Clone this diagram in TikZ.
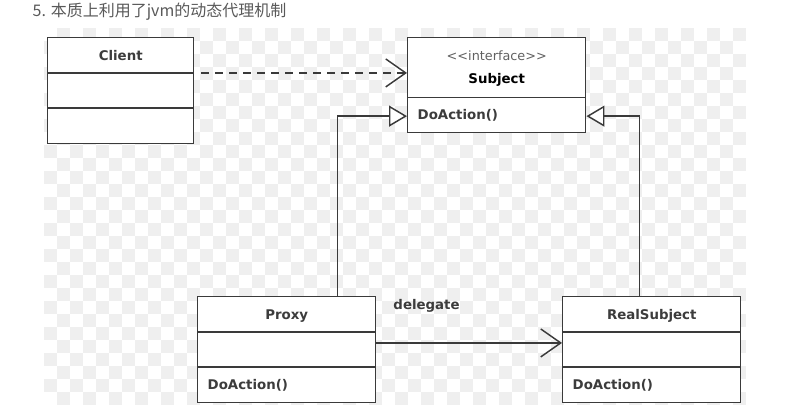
\documentclass[tikz,border=0pt]{standalone}
\usepackage{fontspec}
\setmainfont{DejaVu Sans}
\newfontfamily\cjk{Noto Sans CJK SC}
\usetikzlibrary{shapes.multipart,arrows.meta,calc}

\definecolor{umlline}{HTML}{3A3A3A}
\definecolor{umltext}{HTML}{3C3C3C}
\definecolor{chkgray}{HTML}{EFEFEF}
\newcommand{\partstrut}{\rule[-9.1pt]{0pt}{25.3pt}}
\newcommand{\oppart}[1]{\makebox[\linewidth][l]{\partstrut #1}}

\tikzset{
  umlclass/.style={rectangle split, rectangle split parts=#1, draw=umlline, line width=1.1pt,
    fill=white, text width=118.5pt, inner xsep=7.5pt, inner ysep=0pt, align=center,
    text=umltext, font=\fontsize{10}{17.7}\selectfont\bfseries, anchor=north west},
  chk/.style={fill=chkgray},
  depend/.style={draw=umlline, line width=1.1pt, dash pattern=on 6pt off 4.5pt,
    -{Straight Barb[length=15pt,width=21pt]}},
  assoc/.style={draw=umlline, line width=1.1pt, -{Straight Barb[length=15pt,width=21pt]}},
  inherit/.style={draw=umlline, line width=1.1pt, -{Triangle[length=13.5pt,width=15.75pt,fill=white]}},
  lbl/.style={text=umltext, font=\fontsize{10}{12}\selectfont\bfseries},
  title/.style={text=black!65, font=\cjk\fontsize{12}{14}\selectfont, anchor=west}
}

\begin{document}
\begin{tikzpicture}[x=0.75pt,y=-0.75pt]
  \useasboundingbox (0,0) rectangle (804,417);
  % checker background
  \foreach \i in {0,...,53} {
    \foreach \j in {0,...,28} {
      \ifodd\numexpr\i+\j\relax
        \fill[chk] (44+13*\i,28+13*\j) rectangle ++(13,13);
      \fi
    }
  }

  \node[title] (title) at (28,12) {5. 本质上利用了jvm的动态代理机制};

  % classes
  \node[umlclass=3, text width=94.5pt] (client) at (47,37) {
    \nodepart{one}\partstrut Client
    \nodepart{two}\partstrut
    \nodepart{three}\partstrut
  };
  \node[umlclass=2] (subject) at (407,37) {
    \nodepart{one}\rule{0pt}{16.2pt}{\fontsize{9.6}{9.6}\selectfont\mdseries\color{black!62}<\kern0pt<interface>\kern0pt>}\\
      Subject\rule[-9.8pt]{0pt}{0pt}
    \nodepart{two}\oppart{DoAction()}
  };
  \node[umlclass=3] (proxy) at (197,296) {
    \nodepart{one}\partstrut Proxy
    \nodepart{two}\partstrut
    \nodepart{three}\oppart{DoAction()}
  };
  \node[umlclass=3] (real) at (562,296) {
    \nodepart{one}\partstrut RealSubject
    \nodepart{two}\partstrut
    \nodepart{three}\oppart{DoAction()}
  };

  % relations
  \draw[depend, shorten <=5pt] (client.one split east) -- (client.one split east -| subject.west);
  \draw[inherit] ($(proxy.north west)!0.782!(proxy.north east)$) |- ([yshift=-14pt]subject.one split west);
  \draw[inherit] ([xshift=-9pt]real.north) |- ([yshift=-14pt]subject.one split east);
  \draw[assoc] ([yshift=-8.25pt]proxy.one split east) -- ([yshift=-8.25pt]proxy.one split east -| real.west)
    node[lbl, pos=0.27, yshift=27.75pt] {delegate};
\end{tikzpicture}
\end{document}
